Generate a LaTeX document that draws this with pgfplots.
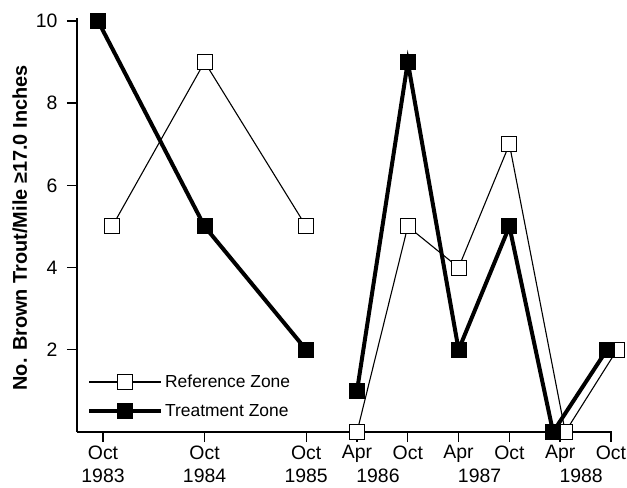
\documentclass[border=0pt]{standalone}
\usepackage{pgfplots}
\pgfplotsset{compat=1.18}
\usepackage{fontspec}
\setmainfont{Liberation Sans}
\begin{document}
\begin{tikzpicture}
\useasboundingbox (-77bp,-56bp) rectangle (550bp,432bp);
\begin{axis}[
  scale only axis,
  width=535bp, height=414bp,
  xmin=-0.256, xmax=5.01,
  ymin=0, ymax=10.07,
  clip=false,
  axis lines=left,
  axis line style={-, line width=1.6bp},
  tick style={line width=1.4bp, black},
  tick align=outside,
  major tick length=10bp,
  ytick={2,4,6,8,10},
  xtick={0,1,2,2.5,3,3.5,4,4.5,5},
  xticklabels={{Oct\\1983},{Oct\\1984},{Oct\\1985},{Apr\\\hspace*{42bp}1986},{Oct\\\phantom{1986}},{Apr\\\hspace*{42bp}1987},{Oct\\\phantom{1987}},{Apr\\\hspace*{42bp}1988},{Oct\\\phantom{1988}}},
  xticklabel style={align=center, font=\fontsize{19.5}{23.5}\selectfont},
  yticklabel style={font=\fontsize{19.5}{23.5}\selectfont, xshift=-6bp},
  /pgf/number format/assume math mode=true,
  every axis y label/.style={at={(axis description cs:-0.107,0.493)}, rotate=90, anchor=center},
  ylabel={\fontsize{20}{24}\selectfont\bfseries No. Brown Trout/Mile ≥17.0 Inches},
  unbounded coords=jump,
  legend style={draw=none, fill=none, at={(axis description cs:0.013,0.148)}, anchor=north west,
    font=\fontsize{17.5}{21}\selectfont, row sep=11bp},
  legend cell align=left,
  legend image code/.code={\draw[mark repeat=2,mark phase=2,#1] plot coordinates {(0bp,0bp) (36bp,0bp) (72bp,0bp)};},
]
\addplot[black, line width=1.1bp, mark=square*, mark size=7.5bp, mark options={fill=white, line width=1bp}] table {
x y
0.09 5
1 9
2 5
nan nan
2.5 0
3 5
3.5 4
4 7
4.55 0
5.06 2
};
\addlegendentry{Reference Zone}
\addplot[black, line width=4bp, mark=square*, mark size=7.5bp, mark options={fill=black, line width=1bp}] table {
x y
-0.05 10
1 5
2 2
nan nan
2.5 1
3 9
3.5 2
4 5
4.43 0
4.96 2
};
\addlegendentry{Treatment Zone}
\end{axis}
\end{tikzpicture}
\end{document}
